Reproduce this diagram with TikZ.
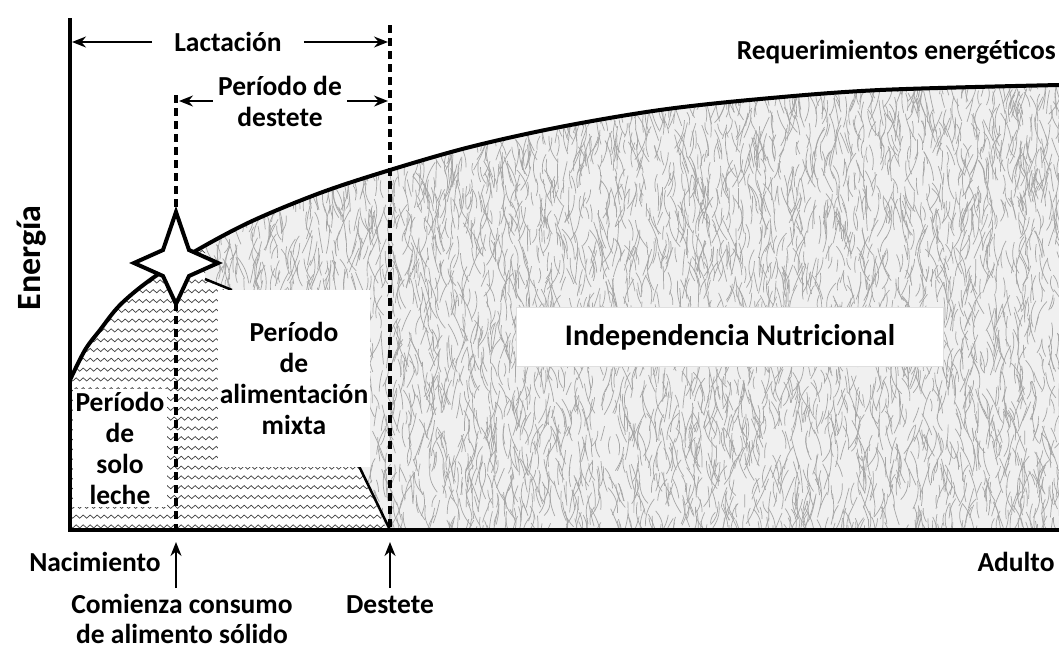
\documentclass[tikz,border=0pt]{standalone}
\usepackage{fontspec}
\setmainfont{Carlito}
\usepackage{tikz}
\usetikzlibrary{arrows.meta}
\usetikzlibrary{decorations.pathmorphing}
\tikzset{
    axis/.style = {line width=4pt},
    period/.style = {line width=4pt,dash pattern=on 8pt off 5pt},
    span/.style = {line width=1.5pt,-{Stealth[length=14pt,width=11pt]}},
    uparrow/.style = {line width=2pt,-{Stealth[length=14pt,width=11pt]}},
    req/.style = {line width=4pt},
    edge/.style = {line width=2.5pt},
    lbl/.style = {font=\fontsize{27.5}{31}\selectfont\bfseries,align=center,inner sep=2pt},
    whitebox/.style = {lbl,fill=white},
    blade/.style = {gray!70,line width=0.7pt},
    wave/.style = {decorate,decoration={snake,segment length=7pt,amplitude=1.6pt},
        line width=0.7pt,gray!50!black},
    reqpath/.style = {insert path={-- plot[smooth,tension=0.55] coordinates {
        (70,380) (85,350) (100,330) (120,305) (150,280) (192,253) (250,222)
        (320,193) (390,170) (470,147) (560,127) (660,110) (760,99) (880,90) (1059,85)}}}
}
\begin{document}
\begin{tikzpicture}[x=1pt,y=-1pt]
        \useasboundingbox (0,0) rectangle (1059,649);
        \newcommand*\xaxis{530}
        % Grass under the requirement curve
        \begin{scope}
            \clip (70,\xaxis) [reqpath] -- (1059,\xaxis) -- cycle;
            \fill[gray!12] (70,60) rectangle (1059,\xaxis);
            \pgfmathsetseed{17}
            \foreach \i in {1,...,5200} {
                \pgfmathsetmacro\gx{190+rnd*880}
                \pgfmathsetmacro\gy{60+rnd*490}
                \pgfmathsetmacro\ga{-90+rand*25}
                \pgfmathsetmacro\gl{12+rnd*20}
                \pgfmathsetmacro\gb{rand*25}
                \draw[blade] (\gx,\gy) to[bend left=\gb] ++(\ga:\gl);
            }
        \end{scope}
        % Milk only and mixed feeding
        \begin{scope}
            \clip (70,\xaxis) [reqpath] -- (1059,\xaxis) -- cycle;
            \clip (60,540) -- (60,150) -- (205,150) -- (205,279) -- (232,290)
                -- (358,464) -- (391,540) -- cycle;
            \fill[white] (60,150) rectangle (400,540);
            \foreach \r in {0,...,28}
                \draw[wave] (60,252+\r*9.8) -- (400,252+\r*9.8);
        \end{scope}
        \path (205,279) coordinate (milkA)
            (232,290) coordinate (milkB)
            (358,464) coordinate (mixEnd)
            (390,\xaxis) coordinate (weanPt)
        ;
        \draw[edge] (milkA) -- (milkB);
        \draw[edge] (mixEnd) -- (weanPt);
        % Period labels
        \node[whitebox,minimum width=147,minimum height=177] (mix) at (294,378)
            {Período\\de\\alimentación\\mixta};
        \node[whitebox,inner sep=3pt] (milk) at (120,448) {Período\\de\\solo\\leche};
        \node[whitebox,draw=gray!25,line width=0.8pt,minimum width=427,minimum height=59,
            font=\fontsize{30}{34}\selectfont\bfseries] (indep) at (730,337)
            {Independencia Nutricional};
        % Requirement curve
        \draw[req] (70,380) [reqpath];
        \node[lbl,anchor=east] (reqlbl) at (1058,52) {Requerimientos energéticos};
        % Axes
        \path (70,18) coordinate (ytop)
            to (70,\xaxis) coordinate (origin)
            to (1059,\xaxis) coordinate (xend)
        ;
        \draw[axis] (ytop) -- (origin) -- (xend);
        \node[lbl,rotate=90,font=\fontsize{34}{38}\selectfont\bfseries] (energy) at (32,258) {Energía};
        % Period limits
        \path (176,95) coordinate (solidtop)
            to (176,\xaxis) coordinate (solidbot)
            (390,25) coordinate (weantop)
            to (390,\xaxis) coordinate (weanbot)
        ;
        \draw[period] (solidtop) -- (solidbot);
        \draw[period] (weantop) -- (weanbot);
        % Start of solid food
        \draw[line width=4pt,line join=miter,fill=white] (176,212) -- (189,250) -- (218,263)
            -- (189,276) -- (176,304) -- (163,276) -- (134,263) -- (163,250) -- cycle;
        % Spans
        \node[lbl,inner xsep=22pt] (lact) at (228,42) {Lactación};
        \path (72,42) coordinate (lactL)
            (388,42) coordinate (lactR)
        ;
        \draw[span] (lact.west) -- (lactL);
        \draw[span] (lact.east) -- (lactR);
        \node[lbl,inner xsep=5pt] (wean) at (280,101) {Período de\\destete};
        \path (179,101) coordinate (weanL)
            (388,101) coordinate (weanR)
        ;
        \draw[span] (wean.west) -- (weanL);
        \draw[span] (wean.east) -- (weanR);
        % Time marks
        \node[lbl] (birth) at (95,562) {Nacimiento};
        \node[lbl] (adult) at (1016,562) {Adulto};
        \node[lbl,font=\fontsize{27.5}{30}\selectfont\bfseries] (solid) at (182,619)
            {Comienza consumo\\de alimento sólido};
        \node[lbl] (weaning) at (390,605) {Destete};
        \path (176,588) coordinate (solidB)
            (176,542) coordinate (solidT)
            (390,588) coordinate (weanB)
            (390,542) coordinate (weanT)
        ;
        \draw[uparrow] (solidB) -- (solidT);
        \draw[uparrow] (weanB) -- (weanT);
    \end{tikzpicture}
\end{document}
